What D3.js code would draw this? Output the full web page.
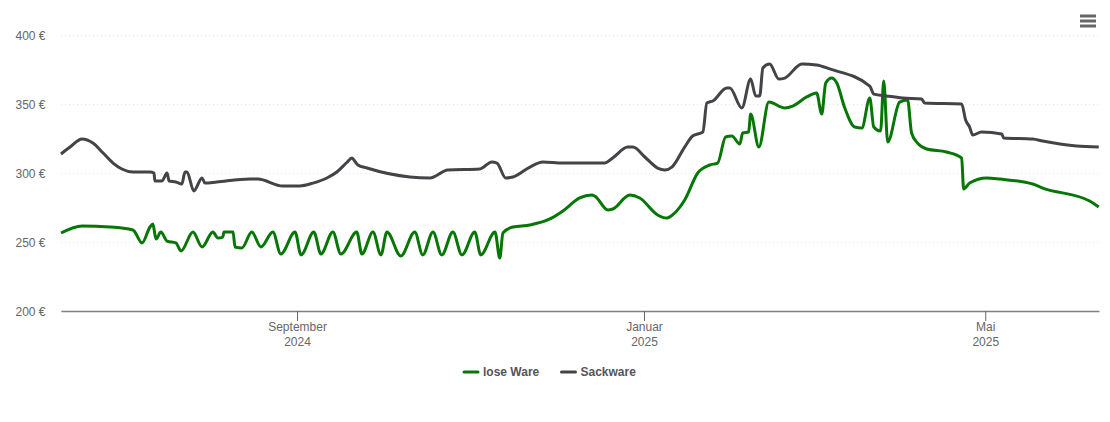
<!DOCTYPE html>
<html>
<head>
<meta charset="utf-8">
<script src="https://cdn.jsdelivr.net/npm/d3@7"></script>
<style>
  html, body { margin: 0; background: #fff; }
  text { font-family: "Liberation Sans", Arial, sans-serif; }
</style>
</head>
<body>
<svg id="chart" width="1110" height="422" style="display:block"></svg>
<script>
// days are counted from the first day of the range (startDate)
var startDate = Date.UTC(2024, 5, 10);
var endDate = Date.UTC(2025, 5, 10);

var yTicks = [200, 250, 300, 350, 400];
var xTicks = [Date.UTC(2024, 8, 1), Date.UTC(2025, 0, 1), Date.UTC(2025, 4, 1)];
var xTickMonths = ['September', 'Januar', 'Mai'];
var xTickYears = ['2024', '2025', '2025'];

var loseName = 'lose Ware';
var loseDays = [0, 7.4, 17.2, 25.3, 28.5, 31.3, 32.3, 33.4, 35.1, 37.3, 40.4, 42.2, 46.4, 49.6, 53.4, 55.2, 56.9, 57.3, 60.5, 61.2, 63.6, 67.1, 70.3, 74.5, 77.3, 82.3, 84.4, 88.9, 91.4, 95.6, 98.4, 104, 105.8, 109.7, 112.5, 114.6, 119.5, 124.4, 127.2, 130.8, 133.9, 137.8, 141, 145.5, 147.6, 152.6, 154.3, 155.4, 158.9, 164.9, 171.9, 176.5, 182.4, 186.6, 187.7, 192.3, 194, 200, 203.5, 209.8, 213, 215.8, 219.3, 223.9, 228.1, 230.9, 233.7, 235.9, 238.7, 239.7, 241.8, 242.5, 245.4, 248.9, 254.5, 257.3, 262.2, 265.7, 267.5, 268.9, 271, 272.8, 275.6, 279.1, 281.6, 284.4, 285.8, 288.2, 289.3, 290.7, 294.9, 297.7, 299.1, 301.2, 304.4, 311.4, 316.7, 317.4, 319.5, 325.5, 330.1, 341.7, 345.2, 361.7, 364.9];
var loseValues = [256.5, 261.6, 260.9, 258.7, 249.3, 260.9, 263, 252.2, 257.2, 250.7, 249.3, 243.5, 257.2, 246.4, 257.2, 252.9, 253.6, 257.2, 257.2, 246.4, 245.7, 257.2, 246.4, 257.2, 241.3, 257.2, 240.6, 257.2, 241.3, 257.2, 241.3, 257.2, 241.3, 257.2, 240.6, 257.2, 239.9, 257.2, 240.6, 257.2, 240.6, 257.2, 240.6, 257.2, 240.6, 257.2, 238.4, 256.5, 260.9, 262.3, 266.7, 272.5, 281.9, 284, 283.3, 273.2, 273.9, 284, 281.9, 269.6, 267.4, 271, 280.4, 300, 305.8, 307.2, 326.1, 326.8, 321, 329, 329.7, 342.7, 318.8, 351.4, 347.1, 348.5, 355.1, 358, 342.7, 365.2, 368.8, 365.2, 347.1, 333.3, 332.6, 354.3, 333.3, 330.4, 366.7, 322.5, 351.4, 352.9, 329, 321.7, 317.4, 315.2, 310.9, 288.4, 292.7, 296.4, 295.6, 292, 289.1, 279.7, 275.4];

var sackName = 'Sackware';
var sackDays = [0, 3.2, 7.4, 11.2, 14.8, 18.3, 21.4, 25.3, 31.3, 32.7, 33, 35.5, 37.3, 38, 40.4, 42.5, 43.6, 44.3, 46.7, 49.6, 50.6, 54.8, 66.4, 69.2, 78, 84, 88.6, 93.5, 97, 100.5, 102.3, 103, 104.4, 107.6, 122.7, 129.7, 136, 147.3, 151.5, 153.3, 156.4, 158.9, 164.9, 169.4, 176.5, 191.2, 194, 199.3, 201.1, 205.3, 209.8, 212.3, 214.8, 219.3, 222.1, 225.7, 227.1, 229.2, 234.1, 235.2, 239.4, 242.5, 244.3, 245.7, 246.8, 249.2, 252.4, 254.5, 260.5, 265.7, 270.3, 284.4, 285.8, 290.3, 296, 302.6, 303.7, 316.7, 318.1, 319.5, 320.6, 323.7, 330.8, 331.5, 341.7, 345.2, 357.1, 364.9];
var sackValues = [313.8, 318.8, 324.6, 321.7, 314.5, 307.2, 302.9, 300.7, 300.7, 300, 294.2, 294.2, 300, 294.2, 293.5, 292, 300.7, 300.7, 287, 296.4, 292.7, 293.5, 295.6, 295.6, 290.6, 290.6, 292.7, 296.4, 300.7, 307.6, 310.9, 309.4, 305.8, 303.6, 297.1, 296.4, 302.2, 302.9, 308, 307.2, 296.4, 297.1, 304.3, 308, 307.2, 307.2, 310.9, 318.8, 318.8, 311.6, 303.6, 302.2, 304.3, 318.8, 326.8, 329.7, 350.7, 352.2, 361.6, 361.6, 347.1, 368.1, 355.8, 355.8, 376.1, 379, 368.1, 368.8, 379, 378.3, 375.4, 363, 357.2, 355.8, 354.3, 353.6, 350.7, 350, 338.4, 333.3, 327.5, 329.7, 328.3, 325.4, 324.6, 323.2, 319.6, 318.8];

var green = '#067606';
var grey = '#434348';

var svg = d3.select('#chart');

var x = d3.scaleUtc().domain([startDate, endDate]).range([61, 1099]);
var y = d3.scaleLinear().domain([200, 400]).range([311, 35]);

function dayToTime(d) {
  return startDate + d * 24 * 3600 * 1000;
}

// horizontal dotted grid + y labels
var yAxis = svg.append('g')
  .attr('transform', 'translate(61,0)')
  .call(d3.axisLeft(y).tickValues(yTicks).tickSize(-1038).tickPadding(15).tickFormat(function(d) {
    return d + ' €';
  }));
yAxis.select('.domain').remove();
yAxis.selectAll('line')
  .attr('stroke', '#e6e6e6')
  .attr('stroke-dasharray', '1,3');
yAxis.selectAll('text')
  .attr('y', 0.4)
  .attr('x', -15.5)
  .attr('fill', '#666')
  .style('font-size', '12px');

// bottom axis with two line month / year labels
var xAxis = svg.append('g')
  .attr('transform', 'translate(0,311)')
  .call(d3.axisBottom(x).tickValues(xTicks).tickSizeInner(10).tickSizeOuter(0).tickFormat(''));
xAxis.select('.domain')
  .attr('stroke', '#808080')
  .attr('stroke-width', 1.5);
xAxis.selectAll('line').attr('stroke', '#666');
var xLabels = xAxis.selectAll('.tick').append('text')
  .attr('text-anchor', 'middle')
  .attr('fill', '#666')
  .style('font-size', '12px');
xLabels.append('tspan')
  .attr('x', 0)
  .attr('y', 20)
  .text(function(d, i) { return xTickMonths[i]; });
xLabels.append('tspan')
  .attr('x', 0)
  .attr('y', 35)
  .text(function(d, i) { return xTickYears[i]; });

var line = d3.line()
  .x(function(d) { return x(dayToTime(d[0])); })
  .y(function(d) { return y(d[1]); })
  .curve(d3.curveMonotoneX);

svg.append('path')
  .datum(d3.zip(loseDays, loseValues))
  .attr('d', line)
  .attr('fill', 'none')
  .attr('stroke', green)
  .attr('stroke-width', 3)
  .attr('stroke-linejoin', 'round');

svg.append('path')
  .datum(d3.zip(sackDays, sackValues))
  .attr('d', line)
  .attr('fill', 'none')
  .attr('stroke', grey)
  .attr('stroke-width', 3)
  .attr('stroke-linejoin', 'round');

// legend
var legendItems = [
  { name: loseName, color: green, x: 463 },
  { name: sackName, color: grey, x: 560.5 }
];
var legend = svg.selectAll('.legend')
  .data(legendItems)
  .enter()
  .append('g')
  .attr('class', 'legend')
  .attr('transform', function(d) { return 'translate(' + d.x + ',372)'; });
legend.append('line')
  .attr('x1', 1)
  .attr('x2', 15)
  .attr('stroke', function(d) { return d.color; })
  .attr('stroke-width', 3)
  .attr('stroke-linecap', 'round');
legend.append('text')
  .attr('x', 20)
  .attr('y', 4)
  .attr('fill', '#555')
  .style('font-size', '12px')
  .style('font-weight', 'bold')
  .text(function(d) { return d.name; });

// menu button
svg.selectAll('.menu')
  .data([16, 21, 26])
  .enter()
  .append('line')
  .attr('class', 'menu')
  .attr('x1', 1080)
  .attr('x2', 1096)
  .attr('y1', function(d) { return d; })
  .attr('y2', function(d) { return d; })
  .attr('stroke', '#666')
  .attr('stroke-width', 3);
</script>
</body>
</html>
